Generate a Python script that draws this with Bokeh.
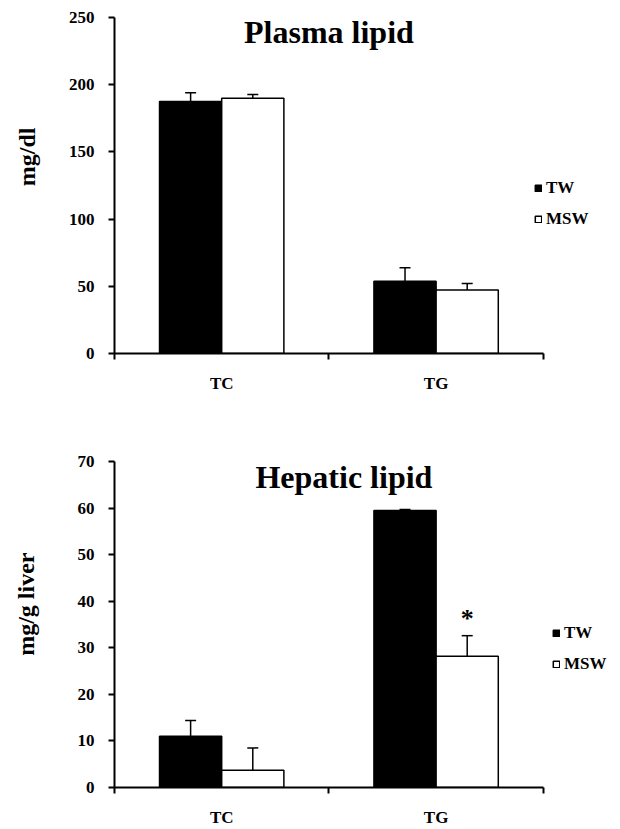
from bokeh.plotting import figure
from bokeh.models import (ColumnDataSource, Range1d, FixedTicker, Whisker, TeeHead,
                          Legend, LegendItem, Label, Title)
from bokeh.layouts import column
from bokeh.transform import dodge
from bokeh.embed import file_html
from bokeh.resources import INLINE

# ---- data ----
categories = ["TC", "TG"]
groups = ["TW", "MSW"]

plasma_tw = [187.5, 53.8]
plasma_tw_err = [6.5, 10.0]
plasma_msw = [190.0, 47.2]
plasma_msw_err = [2.7, 4.8]
plasma_ticks = [0, 50, 100, 150, 200, 250]

hepatic_tw = [11.0, 59.5]
hepatic_tw_err = [3.4, 0.2]
hepatic_msw = [3.7, 28.2]
hepatic_msw_err = [4.8, 4.4]
hepatic_ticks = [0, 10, 20, 30, 40, 50, 60, 70]
hepatic_signif = ["", "*"]

FONT = "Liberation Serif"
BAR_W = 0.29
X_EXTRA = 0.36   # empty room right of the axis, used by the legend


def panel(title, tw, tw_err, msw, msw_err, ticks, ylabel, height,
          b_top, b_bottom, b_left, title_x, title_y,
          legend_loc, ylabel_offset, ylabel_gap, signif=None, star_pad=0.0):
    n = len(categories)
    xs = [i + 0.5 for i in range(n)]
    src = ColumnDataSource(dict(
        x=xs, tw=tw, tw_up=[v + e for v, e in zip(tw, tw_err)],
        msw=msw, msw_up=[v + e for v, e in zip(msw, msw_err)]))

    p = figure(width=620, height=height, output_backend="svg", toolbar_location=None,
               x_range=Range1d(0, n + X_EXTRA), y_range=Range1d(0, ticks[-1]),
               min_border_top=b_top, min_border_bottom=b_bottom,
               min_border_left=b_left, min_border_right=0)
    p.outline_line_color = None
    p.xgrid.visible = False
    p.ygrid.visible = False
    p.background_fill_color = "white"
    p.border_fill_color = "white"

    r1 = p.vbar(x=dodge("x", -BAR_W / 2), top="tw", width=BAR_W, bottom=0, source=src,
                fill_color="black", line_color="black", line_width=1.5)
    r2 = p.vbar(x=dodge("x", BAR_W / 2), top="msw", width=BAR_W, bottom=0, source=src,
                fill_color="white", line_color="black", line_width=1.5)

    for off, lo, up in ((-BAR_W / 2, "tw", "tw_up"), (BAR_W / 2, "msw", "msw_up")):
        w = Whisker(base=dodge("x", off), lower=lo, upper=up, source=src,
                    dimension="height", line_color="black", line_width=1.5,
                    upper_head=TeeHead(size=11, line_color="black", line_width=1.5),
                    lower_head=None)
        p.add_layout(w)

    # axes
    xa = p.xaxis[0]
    xa.bounds = (0, n)
    xa.ticker = FixedTicker(ticks=xs, minor_ticks=list(range(n + 1)))
    xa.major_label_overrides = {x: c for x, c in zip(xs, categories)}
    xa.major_tick_out = 0
    xa.major_tick_in = 0
    xa.minor_tick_out = 6
    xa.minor_tick_in = 0
    xa.minor_tick_line_width = 2
    xa.minor_tick_line_color = "black"
    xa.axis_line_width = 2
    xa.axis_line_color = "black"
    xa.major_label_text_font = FONT
    xa.major_label_text_font_style = "bold"
    xa.major_label_text_font_size = "17px"
    xa.major_label_text_color = "black"
    xa.major_label_standoff = 14

    ya = p.yaxis[0]
    ya.ticker = FixedTicker(ticks=ticks, minor_ticks=[])
    ya.major_tick_out = 6
    ya.major_tick_in = 0
    ya.major_tick_line_width = 2
    ya.major_tick_line_color = "black"
    ya.minor_tick_out = 0
    ya.minor_tick_in = 0
    ya.axis_line_width = 2
    ya.axis_line_color = "black"
    ya.major_label_text_font = FONT
    ya.major_label_text_font_style = "bold"
    ya.major_label_text_font_size = "17px"
    ya.major_label_text_color = "black"
    ya.major_label_standoff = 14

    # spacer between tick labels and the y-axis title
    p.add_layout(Title(text=" ", text_font_size="1px", standoff=ylabel_gap), "left")
    p.add_layout(Title(text=ylabel, align="right", offset=ylabel_offset,
                       standoff=2, text_font=FONT,
                       text_font_style="bold", text_font_size="24px",
                       text_color="black"), "left")

    p.add_layout(Label(x=title_x, y=title_y, text=title, text_align="center",
                       text_baseline="alphabetic", text_font=FONT,
                       text_font_style="bold", text_font_size="32px",
                       text_color="black"))

    if signif:
        for i, s in enumerate(signif):
            if s:
                p.add_layout(Label(x=xs[i] + BAR_W / 2, y=msw[i] + msw_err[i] + star_pad,
                                   text=s, text_align="center", text_baseline="alphabetic",
                                   text_font=FONT, text_font_style="bold",
                                   text_font_size="26px", text_color="black"))

    legend = Legend(items=[LegendItem(label=groups[0], renderers=[r1]),
                           LegendItem(label=groups[1], renderers=[r2])],
                    location=legend_loc, orientation="vertical",
                    glyph_width=8, glyph_height=8, label_standoff=4,
                    label_height=20, spacing=11, padding=0, margin=0,
                    border_line_color=None, background_fill_alpha=0,
                    label_text_font=FONT, label_text_font_style="bold",
                    label_text_font_size="17px", label_text_color="black")
    p.add_layout(legend)
    return p


p1 = panel("Plasma lipid", plasma_tw, plasma_tw_err, plasma_msw, plasma_msw_err,
           plasma_ticks, "mg/dl", 400, 17, 47, 113, 1.0, 239.0, (420, 124), 110, 22)
p2 = panel("Hepatic lipid", hepatic_tw, hepatic_tw_err, hepatic_msw, hepatic_msw_err,
           hepatic_ticks, "mg/g liver", 429, 61, 36, 114, 1.07, 66.6, (438, 113), 91, 32,
           signif=hepatic_signif, star_pad=3.7)

layout = column(p1, p2, spacing=0)
open("out.html", "w").write(file_html(layout, INLINE))
